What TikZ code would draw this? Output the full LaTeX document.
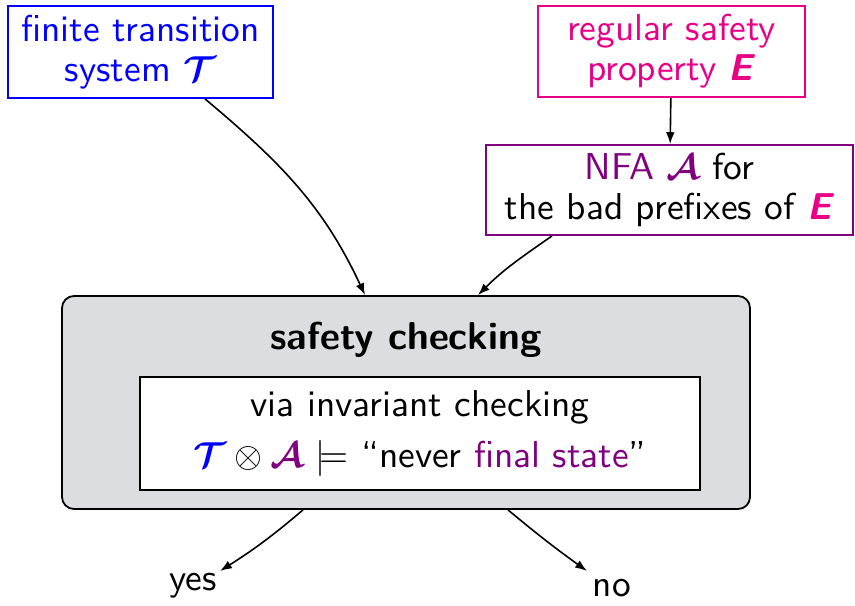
\documentclass[tikz,border=0pt]{standalone}
\usepackage{amsmath,amssymb,bm}
\usepackage{fontspec}
\usetikzlibrary{arrows.meta,calc}
\definecolor{cblue}{RGB}{0,0,255}
\definecolor{cpink}{RGB}{232,0,135}
\definecolor{cpurple}{RGB}{128,0,128}
\definecolor{cgrey}{RGB}{220,221,224}
\newdimen\pxu \pxu=0.2778pt
\newcommand{\calT}{\textcolor{cblue}{$\bm{\mathcal{T}}$}}
\newcommand{\calA}{\textcolor{cpurple}{$\bm{\mathcal{A}}$}}
\newcommand{\bE}{\textcolor{cpink}{\textbf{\textit{E}}}}
\begin{document}
\begin{tikzpicture}[x=\pxu,y=\pxu,
  every node/.style={font=\sffamily\fontsize{10.4}{11.1}\selectfont, align=center, inner sep=2\pxu},
  box/.style={draw, line width=1.8\pxu, inner sep=0pt},
  conn/.style={line width=1.6\pxu, -{Latex[length=3.3pt,width=2.4pt]}}]
\useasboundingbox (0,0) rectangle (855,-605);
\node[box, draw=cblue, text=cblue, minimum width=265\pxu, minimum height=92\pxu] (t) at (140.5,-52) {finite transition\\system \calT};
\node[box, draw=cpink, text=cpink, minimum width=267\pxu, minimum height=91\pxu] (e) at (671.5,-51.5) {regular safety\\property \bE};
\node[box, draw=cpurple, minimum width=367\pxu, minimum height=90\pxu] (a) at (669.5,-190) {\textcolor{cpurple}{NFA \calA} for\\the bad prefixes of \bE};
\node[draw, fill=cgrey, line width=1.8\pxu, rounded corners=12\pxu, minimum width=688\pxu, minimum height=213\pxu] (sc) at (406,-402.5) {};
\node[font=\sffamily\bfseries\fontsize{10.8}{12}\selectfont] (title) at (406,-339.5) {safety checking};
\node[draw, fill=white, line width=2.2\pxu, minimum width=560\pxu, minimum height=113\pxu] (inner) at (420,-433.5) {via invariant checking\\[3pt]\calT${}\otimes{}$\calA\ $\models$ ``never \textcolor{cpurple}{final state}''};
\node (yes) at (193,-586) {yes};
\node (no) at (612,-588) {no};
\draw[conn] (e) -- (a);
\draw[conn] ([xshift=64.5\pxu]t.south) to[out=-40,in=115] ([xshift=-41\pxu]sc.north);
\draw[conn] ([xshift=-117.5\pxu]a.south) to[out=-145,in=45] ([xshift=72\pxu]sc.north);
\draw[conn] ([xshift=-103\pxu]sc.south) to[bend left=4] ([shift={(27\pxu,15\pxu)}]yes.center);
\draw[conn] ([xshift=102\pxu]sc.south) to[bend right=2] ([shift={(-25\pxu,17\pxu)}]no.center);
\end{tikzpicture}
\end{document}
